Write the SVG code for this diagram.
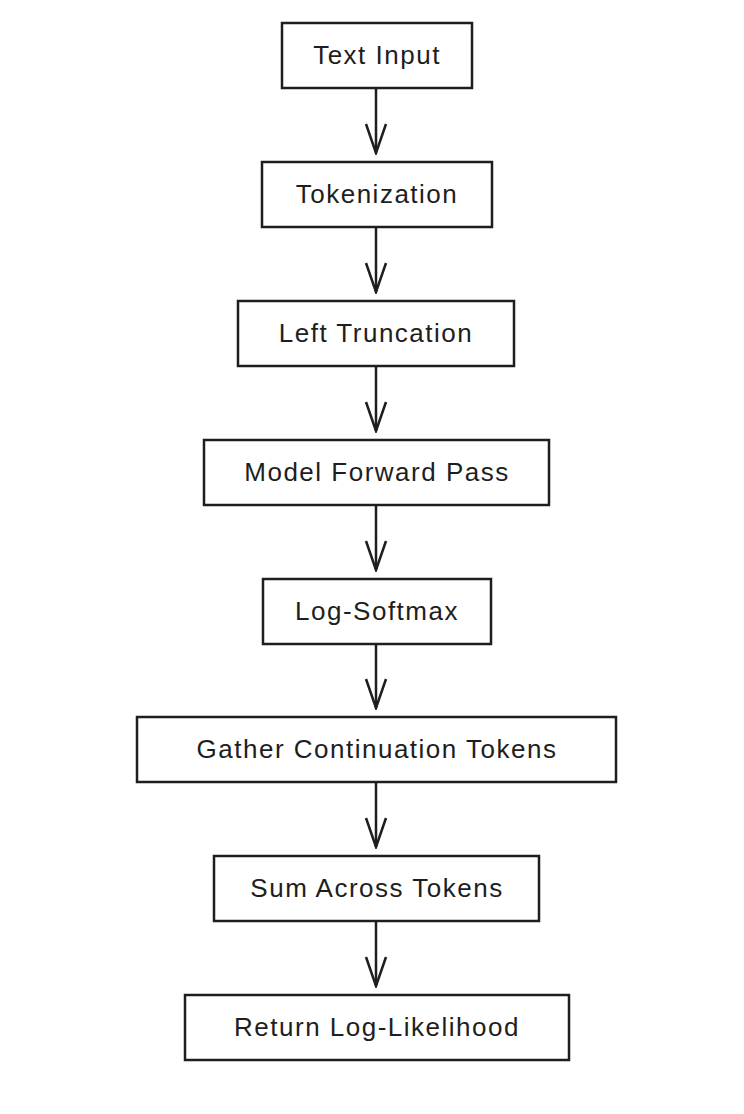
<svg xmlns="http://www.w3.org/2000/svg" width="744" height="1114" viewBox="0 0 744 1114">
<defs>
<style>
.b{fill:#fff;stroke:#1e1e1e;stroke-width:2.5}
.t{font-family:"Liberation Sans",Arial,sans-serif;font-size:26px;fill:#1e1e1e;text-anchor:middle;dominant-baseline:central;letter-spacing:1.5px}
.c{stroke:#1e1e1e;stroke-width:2.5;fill:none}
</style>
<marker id="a" markerWidth="32" markerHeight="24" refX="30" refY="12" orient="auto" markerUnits="userSpaceOnUse">
<path d="M1,2 L30,12 L1,22" fill="none" stroke="#1e1e1e" stroke-width="2.5"/>
</marker>
</defs>
<rect width="744" height="1114" fill="#fff"/>
<g id="connectors">
<line class="c" x1="376" y1="88" x2="376" y2="153" marker-end="url(#a)"/>
<line class="c" x1="376" y1="227" x2="376" y2="292" marker-end="url(#a)"/>
<line class="c" x1="376" y1="366" x2="376" y2="431" marker-end="url(#a)"/>
<line class="c" x1="376" y1="505" x2="376" y2="570" marker-end="url(#a)"/>
<line class="c" x1="376" y1="644" x2="376" y2="708" marker-end="url(#a)"/>
<line class="c" x1="376" y1="782" x2="376" y2="847" marker-end="url(#a)"/>
<line class="c" x1="376" y1="921" x2="376" y2="986" marker-end="url(#a)"/>
</g>
<g id="n1"><rect class="b" x="282" y="23" width="190" height="65"/><text class="t" x="377" y="55">Text Input</text></g>
<g id="n2"><rect class="b" x="262" y="162" width="230" height="65"/><text class="t" x="377" y="194">Tokenization</text></g>
<g id="n3"><rect class="b" x="238" y="301" width="276" height="65"/><text class="t" x="376" y="333">Left Truncation</text></g>
<g id="n4"><rect class="b" x="204" y="440" width="345" height="65"/><text class="t" x="377" y="472">Model Forward Pass</text></g>
<g id="n5"><rect class="b" x="263" y="579" width="228" height="65"/><text class="t" x="377" y="611">Log-Softmax</text></g>
<g id="n6"><rect class="b" x="137" y="717" width="479" height="65"/><text class="t" x="377" y="749">Gather Continuation Tokens</text></g>
<g id="n7"><rect class="b" x="214" y="856" width="325" height="65"/><text class="t" x="377" y="888">Sum Across Tokens</text></g>
<g id="n8"><rect class="b" x="185" y="995" width="384" height="65"/><text class="t" x="377" y="1027">Return Log-Likelihood</text></g>
</svg>
